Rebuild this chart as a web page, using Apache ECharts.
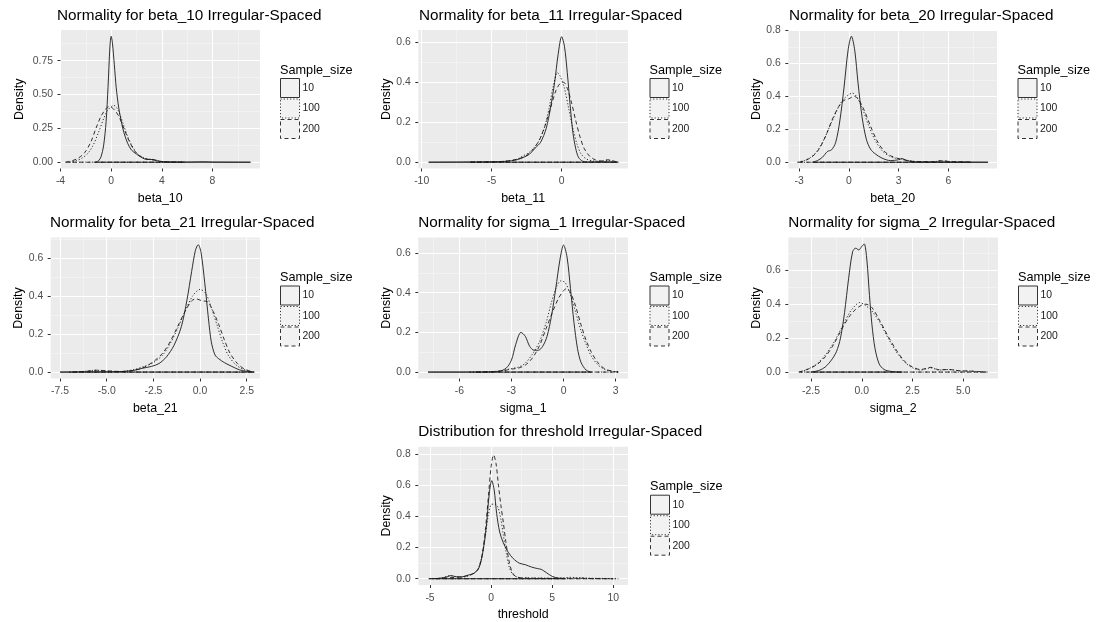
<!DOCTYPE html>
<html><head><meta charset="utf-8">
<script src="https://cdn.jsdelivr.net/npm/echarts@6/dist/echarts.min.js"></script>
<style>html,body{margin:0;padding:0;background:#fff}#c{width:1096px;height:622px}</style>
</head><body><div id="c"></div>
<script>
// ---------------- DATA ----------------
const sampleSizes = ['10', '100', '200'];

// beta_10
const beta10_n10 = [[-1.25,0],[-1.0,0.01],[-0.8,0.04],[-0.6,0.12],[-0.4,0.3],[-0.25,0.55],[-0.1,0.85],[0,0.93],[0.1,0.88],[0.25,0.72],[0.4,0.55],[0.6,0.4],[0.8,0.3],[1.0,0.22],[1.3,0.14],[1.6,0.09],[2.0,0.06],[2.4,0.035],[2.8,0.02],[3.3,0.02],[3.8,0.008],[4.5,0.002],[6,0.001],[7.3,0.003],[8,0.001],[11,0]];
const beta10_n100 = [[-3.3,0],[-2.8,0.01],[-2.3,0.03],[-1.8,0.07],[-1.4,0.13],[-1.0,0.22],[-0.6,0.32],[-0.3,0.38],[0,0.41],[0.2,0.42],[0.45,0.4],[0.7,0.35],[1.0,0.27],[1.3,0.19],[1.6,0.13],[2.0,0.07],[2.4,0.04],[2.8,0.025],[3.3,0.02],[3.6,0.01],[4.2,0.003],[5,0.002],[5.8,0]];
const beta10_n200 = [[-3.6,0],[-3.1,0.01],[-2.6,0.03],[-2.1,0.07],[-1.6,0.15],[-1.2,0.25],[-0.8,0.34],[-0.45,0.39],[-0.2,0.41],[0.1,0.4],[0.4,0.37],[0.7,0.32],[1.0,0.25],[1.4,0.16],[1.8,0.09],[2.2,0.05],[2.6,0.03],[3.0,0.02],[3.4,0.015],[3.8,0.005],[4.5,0.002],[5.8,0]];
const beta10_xTicks = [-4, 0, 4, 8];
const beta10_xMinor = [-2, 2, 6, 10];
const beta10_yTicks = [0, 0.25, 0.5, 0.75];
const beta10_yMinor = [0.125, 0.375, 0.625, 0.875];

// beta_11
const beta11_n10 = [[-9.5,0],[-7,0.001],[-5,0.002],[-4,0.004],[-3.2,0.012],[-2.7,0.025],[-2.3,0.04],[-1.9,0.07],[-1.5,0.1],[-1.1,0.17],[-0.8,0.27],[-0.5,0.4],[-0.25,0.54],[0,0.628],[0.2,0.58],[0.4,0.45],[0.6,0.29],[0.8,0.15],[1.0,0.07],[1.2,0.025],[1.5,0.005],[2,0.001],[3,0.002],[4,0]];
const beta11_n100 = [[-6.5,0],[-5,0.002],[-4,0.005],[-3.3,0.012],[-2.8,0.03],[-2.4,0.045],[-2,0.07],[-1.6,0.11],[-1.2,0.18],[-0.9,0.27],[-0.6,0.38],[-0.3,0.448],[-0.1,0.43],[0.2,0.37],[0.5,0.27],[0.8,0.17],[1.1,0.09],[1.4,0.04],[1.8,0.015],[2.3,0.006],[2.8,0.005],[3.3,0.01],[3.7,0.006],[4.05,0]];
const beta11_n200 = [[-6.5,0],[-5,0.002],[-4,0.005],[-3.2,0.015],[-2.6,0.03],[-2.1,0.06],[-1.6,0.11],[-1.2,0.18],[-0.8,0.27],[-0.4,0.36],[-0.1,0.395],[0.15,0.4],[0.4,0.37],[0.7,0.3],[1.0,0.21],[1.3,0.13],[1.6,0.07],[2.0,0.03],[2.4,0.012],[2.8,0.006],[3.3,0.012],[3.7,0.006],[4.05,0]];
const beta11_xTicks = [-10, -5, 0];
const beta11_xMinor = [-7.5, -2.5, 2.5];
const beta11_yTicks = [0, 0.2, 0.4, 0.6];
const beta11_yMinor = [0.1, 0.3, 0.5];

// beta_20
const beta20_n10 = [[-2.2,0],[-1.9,0.01],[-1.6,0.03],[-1.3,0.065],[-1.05,0.075],[-0.8,0.12],[-0.55,0.25],[-0.3,0.45],[-0.05,0.68],[0.15,0.764],[0.35,0.68],[0.55,0.48],[0.8,0.27],[1.05,0.14],[1.3,0.08],[1.6,0.05],[2.0,0.025],[2.5,0.01],[3.0,0.015],[3.2,0.022],[3.5,0.01],[4.0,0.002],[6,0.001],[8.4,0]];
const beta20_n100 = [[-3.1,0],[-2.7,0.01],[-2.3,0.03],[-1.9,0.07],[-1.5,0.14],[-1.1,0.23],[-0.7,0.32],[-0.35,0.38],[0,0.41],[0.2,0.42],[0.45,0.4],[0.8,0.33],[1.2,0.22],[1.6,0.13],[2.0,0.07],[2.4,0.04],[2.8,0.025],[3.2,0.02],[3.6,0.01],[4.2,0.003],[5,0.002],[5.6,0.008],[6.2,0.002],[7.2,0]];
const beta20_n200 = [[-3.0,0],[-2.6,0.012],[-2.2,0.035],[-1.8,0.08],[-1.4,0.16],[-1.0,0.26],[-0.6,0.34],[-0.3,0.375],[0,0.385],[0.3,0.4],[0.55,0.385],[0.9,0.32],[1.3,0.22],[1.7,0.13],[2.1,0.07],[2.5,0.04],[2.9,0.025],[3.3,0.015],[3.8,0.006],[4.5,0.003],[5.2,0.004],[5.6,0.01],[6.1,0.004],[7,0.002],[7.5,0]];
const beta20_xTicks = [-3, 0, 3, 6];
const beta20_xMinor = [-1.5, 1.5, 4.5, 7.5];
const beta20_yTicks = [0, 0.2, 0.4, 0.6, 0.8];
const beta20_yMinor = [0.1, 0.3, 0.5, 0.7];

// beta_21
const beta21_n10 = [[-7.5,0],[-6,0.001],[-4.5,0.002],[-3.6,0.008],[-3.1,0.02],[-2.6,0.03],[-2.2,0.045],[-1.8,0.08],[-1.4,0.14],[-1.0,0.24],[-0.7,0.38],[-0.45,0.53],[-0.25,0.64],[-0.1,0.67],[0.05,0.63],[0.25,0.47],[0.45,0.28],[0.6,0.16],[0.8,0.09],[1.0,0.07],[1.3,0.05],[1.7,0.03],[2.1,0.012],[2.5,0.004],[2.9,0]];
const beta21_n100 = [[-7.0,0],[-6.2,0.004],[-5.6,0.01],[-5.0,0.006],[-4.3,0.003],[-3.6,0.012],[-3.0,0.03],[-2.5,0.05],[-2.0,0.09],[-1.6,0.15],[-1.2,0.23],[-0.8,0.32],[-0.4,0.4],[0,0.435],[0.3,0.415],[0.6,0.34],[0.9,0.25],[1.2,0.16],[1.5,0.09],[1.9,0.04],[2.3,0.015],[2.8,0]];
const beta21_n200 = [[-6.8,0],[-6.1,0.004],[-5.5,0.01],[-4.9,0.006],[-4.2,0.003],[-3.5,0.01],[-3.0,0.025],[-2.5,0.055],[-2.0,0.1],[-1.6,0.16],[-1.2,0.24],[-0.8,0.32],[-0.45,0.375],[-0.2,0.385],[0.1,0.375],[0.4,0.37],[0.7,0.32],[1.0,0.25],[1.3,0.17],[1.6,0.1],[2.0,0.045],[2.4,0.015],[2.9,0]];
const beta21_xTicks = [-7.5, -5, -2.5, 0, 2.5];
const beta21_xMinor = [-6.25, -3.75, -1.25, 1.25];
const beta21_yTicks = [0, 0.2, 0.4, 0.6];
const beta21_yMinor = [0.1, 0.3, 0.5, 0.7];

// sigma_1
const sigma1_n10 = [[-7.8,0],[-5,0],[-3.8,0.002],[-3.3,0.02],[-3.0,0.06],[-2.75,0.14],[-2.45,0.2],[-2.2,0.18],[-1.95,0.13],[-1.7,0.11],[-1.45,0.11],[-1.2,0.13],[-0.95,0.18],[-0.7,0.28],[-0.45,0.42],[-0.2,0.57],[0,0.64],[0.2,0.58],[0.4,0.42],[0.6,0.25],[0.8,0.12],[1.0,0.05],[1.3,0.01],[1.6,0]];
const sigma1_n100 = [[-5.4,0],[-4.2,0.002],[-3.5,0.008],[-3.0,0.018],[-2.6,0.025],[-2.2,0.045],[-1.8,0.09],[-1.4,0.15],[-1.0,0.25],[-0.7,0.35],[-0.4,0.43],[-0.15,0.46],[0.1,0.45],[0.4,0.39],[0.7,0.3],[1.0,0.21],[1.3,0.14],[1.6,0.08],[2.0,0.035],[2.4,0.012],[2.8,0.004],[3.2,0]];
const sigma1_n200 = [[-5.0,0],[-4.0,0.003],[-3.4,0.008],[-3.0,0.015],[-2.6,0.02],[-2.2,0.035],[-1.8,0.07],[-1.4,0.13],[-1.0,0.22],[-0.6,0.31],[-0.3,0.37],[0,0.41],[0.15,0.42],[0.4,0.4],[0.7,0.33],[1.0,0.24],[1.3,0.16],[1.6,0.1],[2.0,0.045],[2.4,0.015],[2.8,0.005],[3.15,0]];
const sigma1_xTicks = [-6, -3, 0, 3];
const sigma1_xMinor = [-7.5, -4.5, -1.5, 1.5];
const sigma1_yTicks = [0, 0.2, 0.4, 0.6];
const sigma1_yMinor = [0.1, 0.3, 0.5];

// sigma_2
const sigma2_n10 = [[-2.5,0],[-2.1,0.01],[-1.8,0.03],[-1.5,0.07],[-1.25,0.12],[-1.05,0.2],[-0.85,0.35],[-0.65,0.55],[-0.45,0.71],[-0.3,0.73],[-0.15,0.72],[0,0.74],[0.12,0.755],[0.25,0.66],[0.38,0.45],[0.5,0.28],[0.65,0.14],[0.85,0.05],[1.1,0.015],[1.5,0.003],[2,0]];
const sigma2_n100 = [[-3.0,0],[-2.6,0.02],[-2.2,0.05],[-1.8,0.1],[-1.4,0.17],[-1.0,0.26],[-0.6,0.35],[-0.3,0.395],[-0.1,0.41],[0.15,0.395],[0.5,0.36],[0.9,0.29],[1.3,0.2],[1.7,0.12],[2.1,0.06],[2.5,0.025],[2.9,0.012],[3.4,0.025],[3.8,0.012],[4.3,0.015],[4.8,0.008],[5.3,0.006],[6.2,0]];
const sigma2_n200 = [[-3.1,0],[-2.6,0.02],[-2.2,0.045],[-1.8,0.09],[-1.4,0.16],[-1.0,0.25],[-0.6,0.33],[-0.3,0.37],[0,0.395],[0.2,0.4],[0.5,0.38],[0.9,0.3],[1.3,0.21],[1.7,0.13],[2.1,0.065],[2.5,0.03],[2.9,0.015],[3.4,0.028],[3.8,0.014],[4.3,0.015],[4.8,0.008],[5.3,0.006],[6.1,0]];
const sigma2_xTicks = [-2.5, 0, 2.5, 5];
const sigma2_xMinor = [-1.25, 1.25, 3.75, 6.25];
const sigma2_yTicks = [0, 0.2, 0.4, 0.6];
const sigma2_yMinor = [0.1, 0.3, 0.5, 0.7];

// threshold
const thr_n10 = [[-5.1,0],[-4.2,0.003],[-3.6,0.012],[-3.3,0.02],[-3.0,0.015],[-2.6,0.01],[-2.2,0.015],[-1.8,0.025],[-1.4,0.035],[-1.0,0.07],[-0.7,0.16],[-0.4,0.33],[-0.15,0.55],[0.05,0.63],[0.25,0.57],[0.45,0.42],[0.7,0.3],[1.0,0.23],[1.4,0.17],[1.8,0.13],[2.3,0.1],[2.8,0.09],[3.3,0.075],[3.8,0.065],[4.1,0.06],[4.5,0.04],[5.0,0.015],[5.5,0.004],[6,0]];
const thr_n100 = [[-4.8,0],[-4.0,0.005],[-3.4,0.02],[-3.0,0.015],[-2.5,0.01],[-2.0,0.015],[-1.5,0.03],[-1.1,0.06],[-0.8,0.13],[-0.5,0.26],[-0.25,0.4],[0,0.475],[0.3,0.48],[0.55,0.46],[0.8,0.38],[1.0,0.28],[1.25,0.16],[1.5,0.07],[1.8,0.025],[2.3,0.008],[3,0.005],[4,0.004],[5,0.003],[6,0.006],[6.5,0.009],[7,0.006],[7.3,0.008],[8,0.003],[9,0.002],[10.4,0]];
const thr_n200 = [[-4.5,0],[-3.5,0.005],[-2.8,0.01],[-2.2,0.015],[-1.7,0.025],[-1.3,0.04],[-1.0,0.07],[-0.7,0.17],[-0.45,0.33],[-0.2,0.55],[0,0.72],[0.2,0.795],[0.4,0.74],[0.6,0.6],[0.8,0.47],[1.0,0.36],[1.2,0.24],[1.45,0.12],[1.7,0.045],[2.0,0.015],[2.5,0.005],[3.5,0.003],[5,0.002],[7,0.003],[8.5,0.001],[10,0]];
const thr_xTicks = [-5, 0, 5, 10];
const thr_xMinor = [-2.5, 2.5, 7.5];
const thr_yTicks = [0, 0.2, 0.4, 0.6, 0.8];
const thr_yMinor = [0.1, 0.3, 0.5, 0.7];

// ---------------- LAYOUT / STYLE ----------------
const FONT = '"Liberation Sans", Arial, Helvetica, sans-serif';
const lineTypes = ['solid', [1.2, 2], [4, 3]];
const panels = [
  {title:'Normality for beta_10 Irregular-Spaced', xName:'beta_10', series:[beta10_n10,beta10_n100,beta10_n200],
   xt:beta10_xTicks, xm:beta10_xMinor, yt:beta10_yTicks, ym:beta10_yMinor, xDec:0, yDec:2,
   g:[60.5,30,199.5,138.5], xr:[-4.0,11.75], yr:[-0.0465,0.9765], tl:57, ll:280, yg:35},
  {title:'Normality for beta_11 Irregular-Spaced', xName:'beta_11', series:[beta11_n10,beta11_n100,beta11_n200],
   xt:beta11_xTicks, xm:beta11_xMinor, yt:beta11_yTicks, ym:beta11_yMinor, xDec:0, yDec:1,
   g:[418.3,30,209.7,138.5], xr:[-10.24,4.74], yr:[-0.0315,0.6615], tl:419, ll:649.5, yg:25},
  {title:'Normality for beta_20 Irregular-Spaced', xName:'beta_20', series:[beta20_n10,beta20_n100,beta20_n200],
   xt:beta20_xTicks, xm:beta20_xMinor, yt:beta20_yTicks, ym:beta20_yMinor, xDec:0, yDec:1,
   g:[788.3,30,208.7,138.5], xr:[-3.66,8.94], yr:[-0.038,0.802], tl:789, ll:1017.5, yg:25},
  {title:'Normality for beta_21 Irregular-Spaced', xName:'beta_21', series:[beta21_n10,beta21_n100,beta21_n200],
   xt:beta21_xTicks, xm:beta21_xMinor, yt:beta21_yTicks, ym:beta21_yMinor, xDec:1, yDec:1,
   g:[50.7,237.5,209.3,141], xr:[-8.0,3.21], yr:[-0.0337,0.708], tl:50, ll:280, yg:25},
  {title:'Normality for sigma_1 Irregular-Spaced', xName:'sigma_1', series:[sigma1_n10,sigma1_n100,sigma1_n200],
   xt:sigma1_xTicks, xm:sigma1_xMinor, yt:sigma1_yTicks, ym:sigma1_yMinor, xDec:0, yDec:1,
   g:[418.3,237.5,209.7,141], xr:[-8.36,3.71], yr:[-0.0323,0.678], tl:418.3, ll:649.5, yg:25},
  {title:'Normality for sigma_2 Irregular-Spaced', xName:'sigma_2', series:[sigma2_n10,sigma2_n100,sigma2_n200],
   xt:sigma2_xTicks, xm:sigma2_xMinor, yt:sigma2_yTicks, ym:sigma2_yMinor, xDec:1, yDec:1,
   g:[788.3,237.5,209.7,141], xr:[-3.62,6.71], yr:[-0.0378,0.793], tl:788.3, ll:1018, yg:25},
  {title:'Distribution for threshold Irregular-Spaced', xName:'threshold', series:[thr_n10,thr_n100,thr_n200],
   xt:thr_xTicks, xm:thr_xMinor, yt:thr_yTicks, ym:thr_yMinor, xDec:0, yDec:1,
   g:[418.3,446.7,209.7,141.6], xr:[-5.96,11.2], yr:[-0.0404,0.848], tl:418.3, ll:650, yg:25}
];

const option = {animation:false, backgroundColor:'#ffffff', title:[], legend:[], grid:[], xAxis:[], yAxis:[], series:[]};

panels.forEach((p, i) => {
  const [gl, gt, gw, gh] = p.g;
  option.grid.push({left:gl, top:gt, width:gw, height:gh, show:true, backgroundColor:'#EBEBEB', borderWidth:0, containLabel:false});
  option.title.push({text:p.title, left:p.tl, top:gt-22, padding:0,
    textStyle:{fontFamily:FONT, fontSize:15.3, fontWeight:'normal', color:'#000'}});
  option.title.push({text:'Sample_size', left:p.ll, top:gt+33.5, padding:0,
    textStyle:{fontFamily:FONT, fontSize:12.7, fontWeight:'normal', color:'#000'}});
  option.legend.push({
    orient:'vertical', left:p.ll, top:gt+48, padding:0, itemGap:0.5, itemWidth:19, itemHeight:19,
    icon:'rect', selectedMode:false,
    textStyle:{fontFamily:FONT, fontSize:10.4, color:'#1A1A1A', padding:[0,0,0,-2]},
    data: sampleSizes.map((s, k) => ({name:s, itemStyle:{color:'#F2F2F2', borderColor:'#333333', borderWidth:1, borderType:lineTypes[k]}}))
  });
  const xi = option.xAxis.length, yi = option.yAxis.length;
  // major x axis
  option.xAxis.push({type:'value', gridIndex:i, min:p.xr[0], max:p.xr[1], position:'bottom',
    name:p.xName, nameLocation:'middle', nameGap:24,
    nameTextStyle:{fontFamily:FONT, fontSize:12.4, color:'#000'},
    axisLine:{show:false, onZero:false},
    axisTick:{show:true, length:3, customValues:p.xt, lineStyle:{color:'#333', width:1}},
    axisLabel:{show:true, customValues:p.xt, margin:8, fontFamily:FONT, fontSize:10.4, color:'#4D4D4D',
      formatter:v => Number(v).toFixed(p.xDec)},
    splitLine:{show:true, lineStyle:{color:'#FFFFFF', width:1}}
  });
  // minor x axis (grid lines only)
  option.xAxis.push({type:'value', gridIndex:i, min:p.xr[0], max:p.xr[1], position:'bottom',
    axisLine:{show:false, onZero:false}, axisTick:{show:false, customValues:p.xm}, axisLabel:{show:false, customValues:p.xm},
    splitLine:{show:true, lineStyle:{color:'rgba(255,255,255,0.6)', width:0.6}}
  });
  option.yAxis.push({type:'value', gridIndex:i, min:p.yr[0], max:p.yr[1], position:'left',
    name:'Density', nameLocation:'middle', nameGap:p.yg, nameRotate:90,
    nameTextStyle:{fontFamily:FONT, fontSize:12.4, color:'#000'},
    axisLine:{show:false, onZero:false},
    axisTick:{show:true, length:3, customValues:p.yt, lineStyle:{color:'#333', width:1}},
    axisLabel:{show:true, customValues:p.yt, margin:7.5, fontFamily:FONT, fontSize:10.4, color:'#4D4D4D',
      formatter:v => Number(v).toFixed(p.yDec)},
    splitLine:{show:true, lineStyle:{color:'#FFFFFF', width:1}}
  });
  option.yAxis.push({type:'value', gridIndex:i, min:p.yr[0], max:p.yr[1], position:'left',
    axisLine:{show:false, onZero:false}, axisTick:{show:false, customValues:p.ym}, axisLabel:{show:false, customValues:p.ym},
    splitLine:{show:true, lineStyle:{color:'rgba(255,255,255,0.6)', width:0.6}}
  });
  p.series.forEach((d, k) => {
    const style = {color:'#1A1A1A', width:0.9, type:lineTypes[k]};
    option.series.push({type:'line', name:sampleSizes[k], xAxisIndex:xi, yAxisIndex:yi, data:d,
      showSymbol:false, symbol:'none', smooth:0.3, silent:true, lineStyle:style, z:3});
    // density outline baseline from the data minimum to the data maximum
    option.series.push({type:'line', name:sampleSizes[k], xAxisIndex:xi, yAxisIndex:yi,
      data:[[d[0][0], 0], [d[d.length-1][0], 0]],
      showSymbol:false, symbol:'none', silent:true, lineStyle:style, z:3});
  });
});

const chart = echarts.init(document.getElementById('c'), null, {renderer:'canvas'});
chart.setOption(option);
</script></body></html>
